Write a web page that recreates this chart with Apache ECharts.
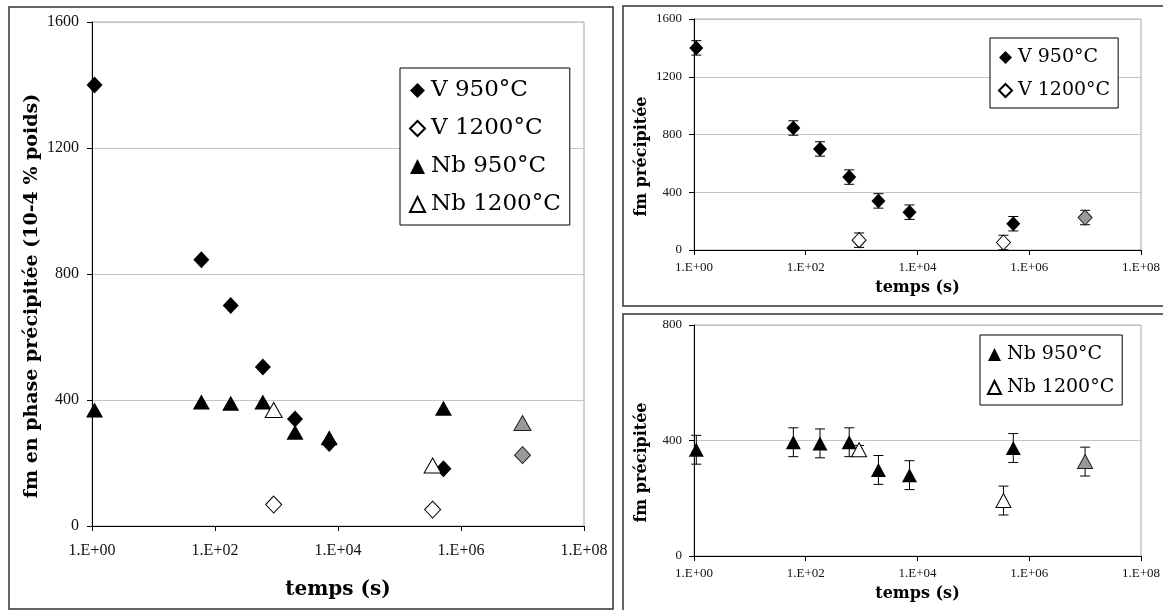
<!DOCTYPE html>
<html>
<head>
<meta charset="utf-8">
<script src="https://cdn.jsdelivr.net/npm/echarts@6/dist/echarts.min.js"></script>
<style>
html,body{margin:0;padding:0;background:#fff;}
#chart{width:1163px;height:610px;}
</style>
</head>
<body>
<div id="chart"></div>
<script>
// ---- data (time in s, fm values) ----
const timesV950 = [1.1, 60, 180, 600, 2000, 7200, 518400];
const valuesV950 = [1400, 845, 700, 505, 340, 262, 182];
const errV950 = [50, 50, 50, 50, 50, 50, 50];
const timesV1200 = [900, 345600];
const valuesV1200 = [68, 52];
const errV1200 = [50, 50];
const timesVGray = [1e7];
const valuesVGray = [225];
const errVGray = [50];

const timesNb950 = [1.1, 60, 180, 600, 2000, 7200, 518400];
const valuesNb950 = [368, 394, 390, 394, 298, 280, 374];
const errNb950 = [50, 50, 50, 50, 50, 50, 50];
const timesNb1200 = [900, 345600];
const valuesNb1200 = [368, 192];
const errNb1200 = [15, 50];
const timesNbGray = [1e7];
const valuesNbGray = [327];
const errNbGray = [50];

const xTickValues = [1, 1e2, 1e4, 1e6, 1e8];
const xTickLabels = ['1.E+00', '1.E+02', '1.E+04', '1.E+06', '1.E+08'];
const legendNamesV = ['V 950°C', 'V 1200°C'];
const legendNamesNb = ['Nb 950°C', 'Nb 1200°C'];

// ---- helpers ----
function pts(xs, ys) { return xs.map((x, i) => [x, ys[i]]); }
function errs(xs, ys, es) { return xs.map((x, i) => [x, ys[i] - es[i], ys[i] + es[i]]); }
function xLabel(v) {
  let best = 0, bd = Infinity;
  xTickValues.forEach((t, i) => {
    const d = Math.abs(Math.log10(t) - Math.log10(v));
    if (d < bd) { bd = d; best = i; }
  });
  return bd < 0.01 ? xTickLabels[best] : '';
}

const serifTick = 'Liberation Serif';
const serifText = 'DejaVu Serif';

function makeX(gi, fs, margin, nameGap, nameFs) {
  return {
    type: 'log', gridIndex: gi, min: 1, max: 1e8, logBase: 10,
    axisLine: { show: true, lineStyle: { color: '#000', width: 1 } },
    axisTick: { show: true, length: 5, lineStyle: { color: '#000' }, customValues: xTickValues },
    minorTick: { show: false },
    splitLine: { show: false },
    axisLabel: { formatter: xLabel, customValues: xTickValues, fontFamily: serifTick, fontSize: fs, color: '#111', margin: margin },
    name: 'temps (s)',
    nameLocation: 'middle', nameGap: nameGap,
    nameTextStyle: { fontFamily: serifText, fontWeight: 'bold', fontSize: nameFs, color: '#000' }
  };
}
function makeY(gi, max, fs, margin, name, nameGap, nameFs, shift) {
  return {
    type: 'value', gridIndex: gi, min: 0, max: max, interval: 400,
    axisLine: { show: true, lineStyle: { color: '#000', width: 1 } },
    axisTick: { show: true, length: 5, lineStyle: { color: '#000' } },
    splitLine: { show: true, lineStyle: { color: '#c4c4c4', width: 1 } },
    axisLabel: { formatter: v => String(v), fontFamily: serifTick, fontSize: fs, color: '#111', margin: margin },
    name: name, nameLocation: 'middle', nameRotate: 90, nameGap: nameGap,
    nameTextStyle: { fontFamily: serifText, fontWeight: 'bold', fontSize: nameFs, color: '#000',
      padding: [0, shift, 0, 0] }
  };
}

function errorSeries(name, xi, yi, data) {
  return {
    type: 'custom', name: name, xAxisIndex: xi, yAxisIndex: yi, z: 1,
    data: data,
    renderItem: function (params, api) {
      const x = api.value(0);
      const lo = api.coord([x, api.value(1)]);
      const hi = api.coord([x, api.value(2)]);
      const c = 5;
      const st = { stroke: '#000', lineWidth: 1 };
      return { type: 'group', children: [
        { type: 'line', shape: { x1: lo[0], y1: lo[1], x2: hi[0], y2: hi[1] }, style: st },
        { type: 'line', shape: { x1: lo[0] - c, y1: lo[1], x2: lo[0] + c, y2: lo[1] }, style: st },
        { type: 'line', shape: { x1: hi[0] - c, y1: hi[1], x2: hi[0] + c, y2: hi[1] }, style: st }
      ]};
    }
  };
}

const styleBlack = { color: '#000', opacity: 1 };
const styleOpen = { color: '#fff', borderColor: '#000', borderWidth: 1, opacity: 1 };
const styleGray = { color: '#999999', borderColor: '#222', borderWidth: 1, opacity: 1 };

function sc(name, xi, data, symbol, size, style) {
  return { type: 'scatter', name: name, xAxisIndex: xi, yAxisIndex: xi, data: data,
    symbol: symbol, symbolSize: size, itemStyle: style, z: 3, clip: false,
    emphasis: { disabled: true } };
}

const diamondL = [16, 17], triL = [17, 15];
const diamondR = [14, 15], triR = [15, 14];

const series = [
  // left panel (grid 0)
  sc('V 950°C', 0, pts(timesV950, valuesV950), 'diamond', diamondL, styleBlack),
  sc('V 1200°C', 0, pts(timesV1200, valuesV1200), 'diamond', diamondL, styleOpen),
  sc('Nb 950°C', 0, pts(timesNb950, valuesNb950), 'triangle', triL, styleBlack),
  sc('Nb 1200°C', 0, pts(timesNb1200, valuesNb1200), 'triangle', triL, styleOpen),
  sc('V gris', 0, pts(timesVGray, valuesVGray), 'diamond', diamondL, styleGray),
  sc('Nb gris', 0, pts(timesNbGray, valuesNbGray), 'triangle', triL, styleGray),
  // top-right (grid 1)
  errorSeries('errV950', 1, 1, errs(timesV950, valuesV950, errV950)),
  errorSeries('errV1200', 1, 1, errs(timesV1200, valuesV1200, errV1200)),
  errorSeries('errVGray', 1, 1, errs(timesVGray, valuesVGray, errVGray)),
  sc('V 950°C', 1, pts(timesV950, valuesV950), 'diamond', diamondR, styleBlack),
  sc('V 1200°C', 1, pts(timesV1200, valuesV1200), 'diamond', diamondR, styleOpen),
  sc('V gris', 1, pts(timesVGray, valuesVGray), 'diamond', diamondR, styleGray),
  // bottom-right (grid 2)
  errorSeries('errNb950', 2, 2, errs(timesNb950, valuesNb950, errNb950)),
  errorSeries('errNb1200', 2, 2, errs(timesNb1200, valuesNb1200, errNb1200)),
  errorSeries('errNbGray', 2, 2, errs(timesNbGray, valuesNbGray, errNbGray)),
  sc('Nb 950°C', 2, pts(timesNb950, valuesNb950), 'triangle', triR, styleBlack),
  sc('Nb 1200°C', 2, pts(timesNb1200, valuesNb1200), 'triangle', triR, styleOpen),
  sc('Nb gris', 2, pts(timesNbGray, valuesNbGray), 'triangle', triR, styleGray)
];

function legendBox(names, left, top, fs, gap, itemW, padding) {
  return {
    data: names, left: left, top: top, orient: 'vertical', itemGap: gap,
    itemWidth: itemW, itemHeight: itemW, padding: padding,
    borderColor: '#000', borderWidth: 1, backgroundColor: '#fff',
    selectedMode: false,
    textStyle: { fontFamily: serifText, fontSize: fs, color: '#000', padding: [0, 0, 0, 1] }
  };
}

const chart = echarts.init(document.getElementById('chart'), null, { renderer: 'canvas' });
chart.setOption({
  animation: false,
  backgroundColor: '#fff',
  graphic: [
    { type: 'rect', shape: { x: 9, y: 7, width: 604, height: 602 }, style: { fill: 'none', stroke: '#333', lineWidth: 1.5 }, z: -10 },
    { type: 'rect', shape: { x: 623, y: 6, width: 560, height: 300 }, style: { fill: 'none', stroke: '#333', lineWidth: 1.5 }, z: -10 },
    { type: 'rect', shape: { x: 623, y: 314, width: 560, height: 310 }, style: { fill: 'none', stroke: '#333', lineWidth: 1.5 }, z: -10 }
  ],
  grid: [
    { left: 92, top: 22, width: 492, height: 504, show: true, borderColor: '#a8a8a8', borderWidth: 1, backgroundColor: 'transparent' },
    { left: 694, top: 19, width: 451, height: 231, show: true, borderColor: '#a8a8a8', borderWidth: 1, backgroundColor: 'transparent' },
    { left: 694, top: 325, width: 451, height: 231, show: true, borderColor: '#a8a8a8', borderWidth: 1, backgroundColor: 'transparent' }
  ],
  xAxis: [
    makeX(0, 16, 17, 54, 20),
    makeX(1, 13, 11, 30, 16),
    makeX(2, 13, 11, 30, 16)
  ],
  yAxis: [
    makeY(0, 1600, 16, 13, 'fm en phase précipitée (10-4 % poids)', 50, 19, 44),
    makeY(1, 1600, 13, 12, 'fm précipitée', 44, 16, 44),
    makeY(2, 800, 13, 12, 'fm précipitée', 44, 16, 44)
  ],
  legend: [
    legendBox(legendNamesV.concat(legendNamesNb), 400, 68, 23, 15, 15, [11, 9, 9, 9]),
    legendBox(legendNamesV, 990, 38, 19, 14, 13, [10, 8, 8, 8]),
    legendBox(legendNamesNb, 980, 335, 19, 14, 13, [10, 8, 8, 7])
  ],
  series: series
});
</script>
</body>
</html>
